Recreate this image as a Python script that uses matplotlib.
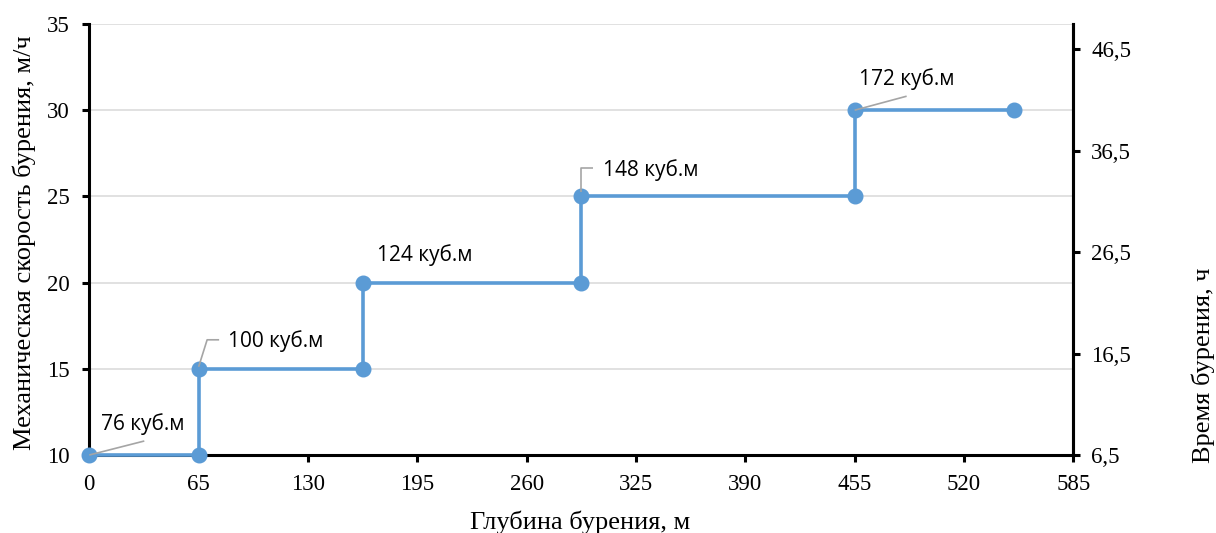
import matplotlib
matplotlib.use("Agg")
import matplotlib.pyplot as plt
from matplotlib.transforms import Affine2D, ScaledTranslation

depth = [0, 65, 65, 162.5, 162.5, 292.5, 292.5, 455, 455, 550]
speed = [10, 10, 15, 15, 20, 20, 25, 25, 30, 30]
volume_labels = ["76 куб.м", "100 куб.м", "124 куб.м", "148 куб.м", "172 куб.м"]
label_points = [0, 2, 4, 6, 8]
x_ticks = [0, 65, 130, 195, 260, 325, 390, 455, 520, 585]
y_ticks = [10, 15, 20, 25, 30, 35]
y2_ticks = [6.5, 16.5, 26.5, 36.5, 46.5]
y2_tick_labels = ["6,5", "16,5", "26,5", "36,5", "46,5"]

serif = "Liberation Serif"
sans = "Open Sans"
blue = "#5B9BD5"
W, H = 1216, 533

fig = plt.figure(figsize=(W / 100, H / 100), dpi=100)
ax = fig.add_axes([89.3 / W, 1 - 455 / H, (1073.3 - 89.3) / W, (455 - 24) / H])

ax.set_xlim(0, 585)
ax.set_ylim(10, 35)
ax.set_xticks(x_ticks)
ax.set_yticks(y_ticks)
ax.grid(axis="y", color="#D9D9D9", linewidth=1.1, zorder=0)
ax.set_axisbelow(True)

ax.plot(depth, speed, color=blue, linewidth=2.6, marker="o", markersize=10.5,
        markerfacecolor=blue, markeredgecolor=blue, zorder=3, clip_on=False)

for sp in ["left", "bottom", "right"]:
    ax.spines[sp].set_linewidth(2.2)
    ax.spines[sp].set_color("black")
ax.spines["top"].set_visible(False)
ax.tick_params(axis="both", direction="out", length=5, width=2.2, labelsize=16.5)
ax.tick_params(axis="x", pad=9)
ax.tick_params(axis="y", pad=9)
for lab in ax.get_xticklabels() + ax.get_yticklabels():
    lab.set_fontfamily(serif)

ax2 = ax.twinx()
ax2.set_ylim(6.5, 49.0)
ax2.set_yticks(y2_ticks)
ax2.set_yticklabels(y2_tick_labels)
ax2.tick_params(axis="y", direction="out", length=5, width=2.2, labelsize=16.5, pad=8)
for lab in ax2.get_yticklabels():
    lab.set_fontfamily(serif)
for sp in ["left", "bottom", "top"]:
    ax2.spines[sp].set_visible(False)
ax2.spines["right"].set_linewidth(2.2)

fig.text(580 / W, 1 - 522 / H, "Глубина бурения, м", fontsize=19,
         fontfamily=serif, ha="center", va="center")
fig.text(24 / W, 1 - 243 / H, "Механическая скорость бурения, м/ч", rotation=90,
         fontsize=19, fontfamily=serif, ha="center", va="center")
fig.text(1203 / W, 1 - 365 / H, "Время бурения, ч", rotation=90,
         fontsize=19, fontfamily=serif, ha="center", va="center")

# Data labels: text offsets (pixels, left edge / vertical centre) and leader paths (pixels)
text_off = [(12, 31), (29.5, 28), (14, 28), (21.5, 26), (4, 31)]
leaders = [
    [(0, 0), (55, 14)],
    [(0, 2), (8.5, 29), (20.5, 29)],
    None,
    [(0, 4), (0, 28), (12, 28)],
    [(0, 0), (52, 14)],
]
px2pt = 72 / fig.dpi
for k, i in enumerate(label_points):
    x, y = depth[i], speed[i]
    dx, dy = text_off[k]
    ax.annotate(volume_labels[k], xy=(x, y), xytext=(dx * px2pt, dy * px2pt),
                textcoords="offset points", fontsize=15, fontfamily=sans,
                ha="left", va="center", zorder=5, annotation_clip=False)
    if leaders[k] is not None:
        tr = Affine2D() + ScaledTranslation(x, y, ax.transData)
        xs = [p[0] for p in leaders[k]]
        ys = [p[1] for p in leaders[k]]
        ax.plot(xs, ys, color="#A5A5A5", linewidth=1.2, transform=tr,
                zorder=4, clip_on=False, solid_capstyle="butt")

fig.savefig("out.png", dpi=100)
